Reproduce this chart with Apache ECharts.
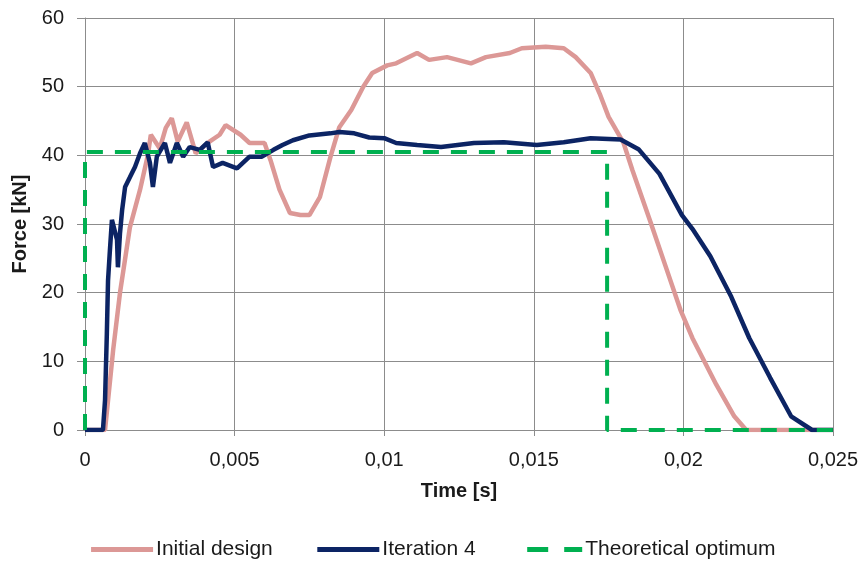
<!DOCTYPE html>
<html>
<head>
<meta charset="utf-8">
<script src="https://cdn.jsdelivr.net/npm/echarts@6/dist/echarts.min.js"></script>
<style>
html,body{margin:0;padding:0;background:#fff;}
#chart{width:864px;height:572px;}
</style>
</head>
<body>
<div id="chart"></div>
<script>
// time [s], force [kN]
var initialDesign = [
    [0,0],[0.00067,0],[0.00094,11.6],[0.00117,20],[0.0015,29.5],[0.00184,35],[0.0021,40],
    [0.0022,43],[0.0025,41],[0.0027,44],[0.0029,45.4],[0.0031,42],[0.0034,44.8],[0.0037,40.3],
    [0.0041,41.8],[0.0045,43],[0.0047,44.4],[0.0052,43],[0.0055,41.8],[0.006,41.8],[0.0062,39.3],
    [0.0065,35],[0.00685,31.6],[0.0072,31.3],[0.0075,31.3],[0.00785,33.9],[0.0082,39.7],
    [0.0085,44.1],[0.0089,46.6],[0.0093,50],[0.0096,52],[0.0101,53.1],[0.0104,53.4],
    [0.0111,54.9],[0.0115,53.9],[0.0121,54.3],[0.0129,53.4],[0.0134,54.3],[0.0142,54.9],
    [0.0146,55.6],[0.0154,55.8],[0.016,55.6],[0.0164,54.3],[0.0169,52],[0.0172,49],
    [0.0175,45.6],[0.018,41.8],[0.0183,37.8],[0.0189,30.3],[0.0194,23.9],[0.0199,17.5],
    [0.0203,13.4],[0.0211,6.6],[0.0217,2],[0.0221,0],[0.025,0]
];
var iteration4 = [
    [0,0],[0.0006,0],[0.00067,4.4],[0.00073,14],[0.00077,21.8],[0.00083,26],[0.0009,30.6],
    [0.00107,27.7],[0.0011,23.7],[0.00117,28.7],[0.00124,32],[0.00134,35.4],[0.0015,36.8],
    [0.00167,38.3],[0.00184,40.3],[0.002,41.8],[0.00217,38.9],[0.00227,35.4],[0.0024,39.8],
    [0.00267,41.8],[0.00284,38.9],[0.00307,41.8],[0.00328,39.8],[0.0035,41.2],[0.00384,40.8],
    [0.0041,41.9],[0.00428,38.3],[0.0046,38.9],[0.00508,38.1],[0.0055,39.8],[0.0059,39.8],
    [0.0063,40.8],[0.0066,41.5],[0.00695,42.2],[0.0075,42.9],[0.0082,43.2],[0.0085,43.4],
    [0.009,43.2],[0.0095,42.6],[0.01,42.5],[0.0104,41.8],[0.0111,41.5],[0.0119,41.2],
    [0.013,41.8],[0.014,41.9],[0.0151,41.5],[0.016,41.9],[0.0169,42.5],[0.0179,42.3],
    [0.0185,40.9],[0.0192,37.3],[0.01995,31.3],[0.0203,29.3],[0.0209,25.3],[0.0216,19.4],
    [0.0222,13.4],[0.0229,7.6],[0.0236,2],[0.0243,0],[0.025,0]
];
var theoreticalOptimum = [[0,0],[0,40.5],[0.01745,40.5],[0.01745,0],[0.025,0]];
var seriesNames = ['Initial design','Iteration 4','Theoretical optimum'];

var chart = echarts.init(document.getElementById('chart'));
var font = '"Liberation Sans", Arial, sans-serif';
var gridColor = '#8c8c8c';
var textColor = '#1a1a1a';

function makeSeries(name, data, color, width, dash){
    return {
        name: name,
        type: 'line',
        data: data,
        symbol: 'none',
        color: color,
        lineStyle: {width: width, color: color, type: dash || 'solid'}
    };
}

chart.setOption({
    animation: false,
    textStyle: {fontFamily: font},
    grid: {left: 85, right: 31, top: 18, bottom: 142},
    legend: {
        bottom: 7,
        left: 'center',
        itemWidth: 62,
        itemHeight: 14,
        itemGap: 42,
        itemStyle: {opacity: 0},
        lineStyle: {width: 5},
        textStyle: {fontFamily: font, fontSize: 21, color: textColor, padding: [0, 0, 0, -2]},
        data: [
            seriesNames[0],
            seriesNames[1],
            {name: seriesNames[2], lineStyle: {width: 5, type: [21, 16], dashOffset: 30}}
        ]
    },
    xAxis: {
        type: 'value',
        min: 0, max: 0.025, interval: 0.005,
        name: 'Time [s]',
        nameLocation: 'middle',
        nameGap: 51,
        nameTextStyle: {fontFamily: font, fontSize: 20, fontWeight: 'bold', color: textColor},
        axisLine: {show: true, lineStyle: {color: gridColor}},
        axisTick: {show: true, length: 6, lineStyle: {color: gridColor}},
        splitLine: {show: true, lineStyle: {color: gridColor}},
        axisLabel: {
            fontSize: 20, color: textColor, margin: 20,
            formatter: function(v){ return String(+v.toFixed(3)).replace('.', ','); }
        }
    },
    yAxis: {
        type: 'value',
        min: 0, max: 60, interval: 10,
        name: 'Force [kN]',
        nameLocation: 'middle',
        nameGap: 48,
        nameTextStyle: {fontFamily: font, fontSize: 20, fontWeight: 'bold', color: textColor},
        axisLine: {show: true, lineStyle: {color: gridColor}},
        axisTick: {show: true, length: 8, lineStyle: {color: gridColor}},
        splitLine: {show: true, lineStyle: {color: gridColor}},
        axisLabel: {fontSize: 20, color: textColor, margin: 21}
    },
    series: [
        makeSeries(seriesNames[0], initialDesign, '#dc9896', 4.5),
        makeSeries(seriesNames[1], iteration4, '#0c2464', 4.5),
        makeSeries(seriesNames[2], theoreticalOptimum, '#00b050', 4, [16, 12])
    ]
});
</script>
</body>
</html>
